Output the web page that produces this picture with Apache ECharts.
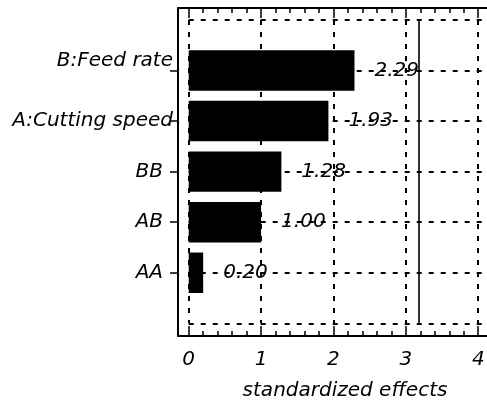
<!DOCTYPE html>
<html>
<head>
<meta charset="utf-8">
<script src="https://cdn.jsdelivr.net/npm/echarts@6/dist/echarts.min.js"></script>
<style>html,body{margin:0;padding:0;background:#fff}#c{width:487px;height:408px}</style>
</head>
<body>
<div id="c"></div>
<script>
// ---- data ----
const categories = ['B:Feed rate', 'A:Cutting speed', 'BB', 'AB', 'AA'];
const positions = [1, 2, 3, 4, 5];
const effects = [2.29, 1.93, 1.28, 1.00, 0.20];
const xMajorTicks = [0, 1, 2, 3, 4];
const xMinorTicks = [0.2, 0.4, 0.6, 0.8, 1.2, 1.4, 1.6, 1.8, 2.2, 2.4, 2.6, 2.8, 3.2, 3.4, 3.6, 3.8];
const rowLines = [0, 1, 2, 3, 4, 5, 6];
const criticalValue = 3.18;
const xTitle = 'standardized effects';

const FONT = 'DejaVu Sans';
const X_MIN = -0.148, X_MAX = 4.19;
const Y_MIN = -0.236, Y_MAX = 6.25;

const chart = echarts.init(document.getElementById('c'), null, {renderer: 'canvas'});

const barData = effects.map((v, i) => [v, positions[i]]);

const dashStyle = {color: '#000', width: 2, type: [5, 7]};
const mlData = [];
xMajorTicks.forEach(x => mlData.push([{coord: [x, rowLines[0]], lineStyle: dashStyle}, {coord: [x, rowLines[rowLines.length - 1]]}]));
rowLines.forEach(p => mlData.push([{coord: [0, p], lineStyle: dashStyle}, {coord: [X_MAX, p]}]));
mlData.push([{coord: [criticalValue, rowLines[0]], lineStyle: {color: '#000', width: 1.6, type: 'solid'}}, {coord: [criticalValue, rowLines[rowLines.length - 1]]}]);

const baseX = {
  type: 'value', min: X_MIN, max: X_MAX, gridIndex: 0,
  splitLine: {show: false}
};

const option = {
  backgroundColor: '#fff',
  animation: false,
  grid: {left: 178, right: -5, top: 8, bottom: 72, containLabel: false, outerBoundsMode: 'none'},
  xAxis: [
    Object.assign({}, baseX, {
      position: 'bottom',
      axisLine: {show: true, onZero: false, lineStyle: {color: '#000', width: 2}},
      axisTick: {show: true, inside: true, length: 10, customValues: xMajorTicks, lineStyle: {color: '#000', width: 1.5}},
      axisLabel: {show: true, customValues: xMajorTicks, margin: 14, color: '#000',
        fontFamily: FONT, fontStyle: 'italic', fontSize: 20},
      name: xTitle, nameLocation: 'middle', nameGap: 45,
      nameTextStyle: {color: '#000', fontFamily: FONT, fontStyle: 'italic', fontSize: 20, padding: [0, 0, 0, 20]}
    }),
    Object.assign({}, baseX, {
      position: 'bottom',
      axisLine: {show: false, onZero: false},
      axisTick: {show: true, inside: true, length: 5, customValues: xMinorTicks, lineStyle: {color: '#000', width: 1.5}},
      axisLabel: {show: false}
    }),
    Object.assign({}, baseX, {
      position: 'top',
      axisLine: {show: true, onZero: false, lineStyle: {color: '#000', width: 2}},
      axisTick: {show: true, inside: true, length: 10, customValues: xMajorTicks, lineStyle: {color: '#000', width: 1.5}},
      axisLabel: {show: false}
    }),
    Object.assign({}, baseX, {
      position: 'top',
      axisLine: {show: false, onZero: false},
      axisTick: {show: true, inside: true, length: 5, customValues: xMinorTicks, lineStyle: {color: '#000', width: 1.5}},
      axisLabel: {show: false}
    })
  ],
  yAxis: [{
    type: 'value', inverse: true, min: Y_MIN, max: Y_MAX,
    position: 'left',
    splitLine: {show: false},
    axisLine: {show: true, onZero: false, lineStyle: {color: '#000', width: 2}},
    axisTick: {show: true, inside: false, length: 8, customValues: positions, lineStyle: {color: '#000', width: 1.5}},
    axisLabel: {
      show: true, customValues: positions, margin: 5, color: '#000',
      fontFamily: FONT, fontStyle: 'italic', fontSize: 20,
      formatter: function (v) {
        const i = positions.indexOf(Math.round(v));
        if (i < 0) return '';
        const name = categories[i];
        if (i === 0) return '{up|' + name + '}';
        if (i === 1) return '{n|' + name + '}';
        return '{sh|' + name + '}';
      },
      rich: {
        up: {fontFamily: FONT, fontStyle: 'italic', fontSize: 20, color: '#000', padding: [0, 0, 20, 0]},
        n: {fontFamily: FONT, fontStyle: 'italic', fontSize: 20, color: '#000'},
        sh: {fontFamily: FONT, fontStyle: 'italic', fontSize: 20, color: '#000', padding: [0, 10, 0, 0]}
      }
    }
  }],
  series: [{
    type: 'custom',
    xAxisIndex: 0, yAxisIndex: 0,
    z: 3,
    data: barData,
    renderItem: function (params, api) {
      const v = api.value(0), p = api.value(1);
      const s = api.coord([0, p]);
      const e = api.coord([v, p]);
      const h = api.size([0, 0.8])[1];
      return {
        type: 'group',
        children: [
          {type: 'rect', shape: {x: s[0], y: s[1] - h / 2, width: e[0] - s[0], height: h}, style: {fill: '#000'}},
          {type: 'text', x: e[0] + 20, y: e[1], style: {
            text: v.toFixed(2), fill: '#000', align: 'left', verticalAlign: 'middle',
            font: 'italic 20px "' + FONT + '"'
          }}
        ]
      };
    },
    markLine: {
      silent: true, z: 1, symbol: 'none', animation: false,
      label: {show: false},
      data: mlData
    }
  }]
};
chart.setOption(option);
</script>
</body>
</html>
